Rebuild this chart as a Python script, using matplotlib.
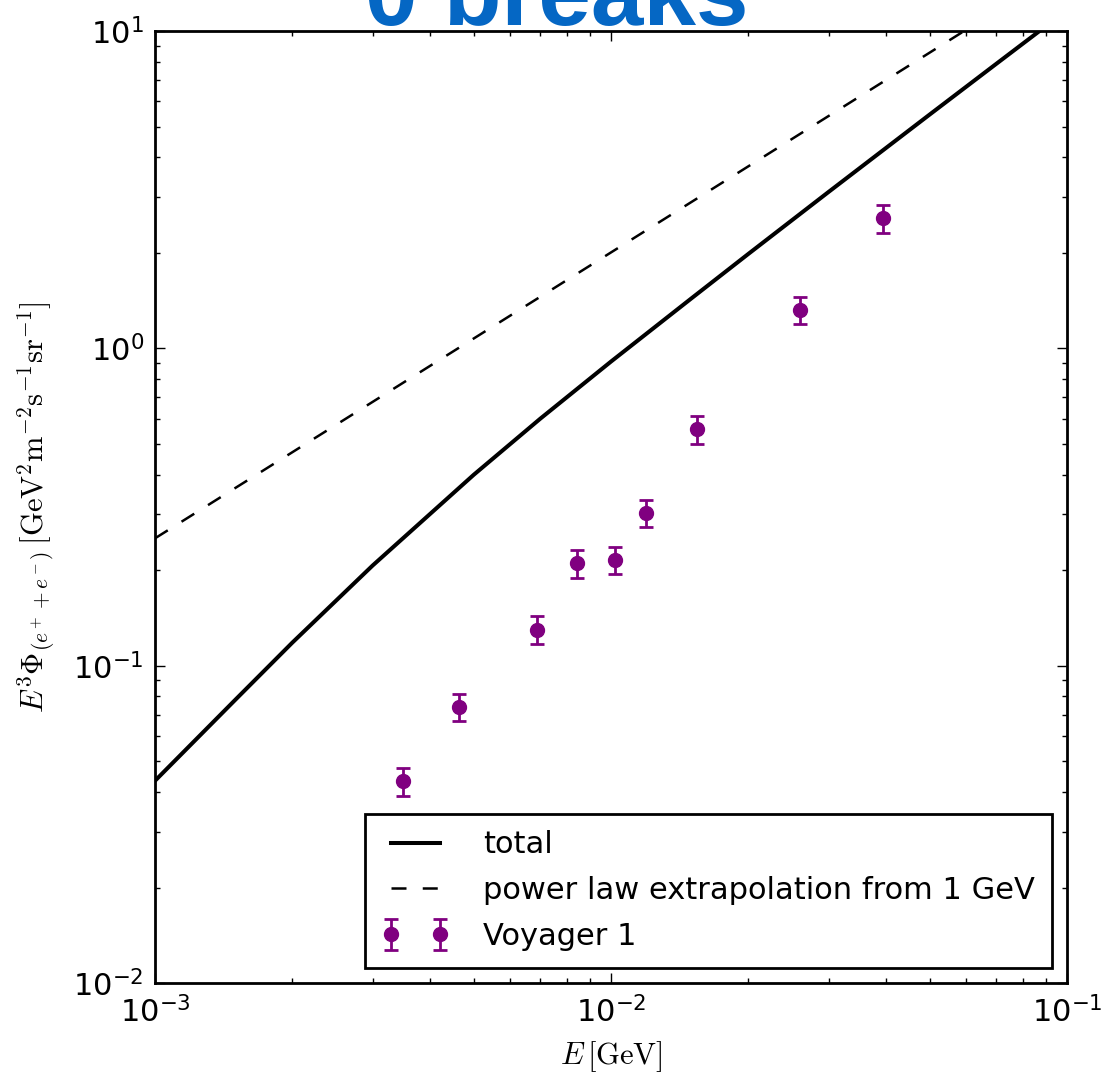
import matplotlib
matplotlib.use("Agg")
import matplotlib.pyplot as plt

# Voyager 1 points (E in GeV, E^3 * flux)
voyager_E = [3.50e-3, 4.64e-3, 6.88e-3, 8.42e-3, 1.02e-2, 1.194e-2, 1.544e-2, 2.597e-2, 3.95e-2]
voyager_flux = [0.0433, 0.0741, 0.130, 0.2105, 0.2152, 0.303, 0.557, 1.32, 2.575]
voyager_err = [0.0044, 0.0074, 0.013, 0.021, 0.021, 0.030, 0.056, 0.13, 0.26]

# total model curve
total_E = [1e-3, 1.5e-3, 2e-3, 3e-3, 5e-3, 7e-3, 1e-2, 1.5e-2, 2e-2, 3e-2, 5e-2, 7e-2, 1e-1]
total_flux = [0.0434, 0.0781, 0.1182, 0.2068, 0.3996, 0.6006, 0.9085, 1.436, 1.983, 3.110, 5.455, 7.882, 11.63]

# power law extrapolation from 1 GeV (straight in log-log)
pl_E = [1e-3, 1e-1]
pl_flux = [0.252, 15.96]

plt.rcParams['mathtext.fontset'] = 'cm'
plt.rcParams['axes.unicode_minus'] = False
plt.rcParams['font.family'] = 'DejaVu Sans'
plt.rcParams['font.size'] = 22

fig = plt.figure(figsize=(11.02, 10.76), dpi=100)
ax = fig.add_axes([0.1407, 0.0864, 0.8275, 0.8848])

ax.plot(total_E, total_flux, color='black', lw=2.9, label='total')
ax.plot(pl_E, pl_flux, color='black', lw=1.8, ls=(0, (6, 6.5)),
        label='power law extrapolation from 1 GeV')
ax.errorbar(voyager_E, voyager_flux, yerr=voyager_err, fmt='o', color='purple',
            mec='purple', ms=10, elinewidth=2, capsize=5, capthick=2,
            label='Voyager 1')

ax.set_xscale('log')
ax.set_yscale('log')
ax.set_xlim(1e-3, 1e-1)
ax.set_ylim(1e-2, 1e1)

for s in ax.spines.values():
    s.set_linewidth(2)
ax.tick_params(which='both', direction='in', top=True, right=True, width=1)
ax.tick_params(which='major', length=7.5, labelsize=22)
ax.tick_params(which='minor', length=3.8)
ax.tick_params(axis='x', which='major', pad=9)
ax.tick_params(axis='y', which='major', pad=8)

ax.set_xlabel(r'$E\,[\mathrm{GeV}]$', fontsize=22, labelpad=8)
ax.set_ylabel(r'$E^3\Phi_{(e^++e^-)}\,[\mathrm{GeV}^2\mathrm{m}^{-2}\mathrm{s}^{-1}\mathrm{sr}^{-1}]$',
              fontsize=22, labelpad=12)

leg = ax.legend(loc='lower right', numpoints=2, fontsize=22, fancybox=False,
                framealpha=1, edgecolor='black', borderaxespad=0.5,
                borderpad=0.55, handlelength=2.2, handletextpad=1.1,
                labelspacing=0.55)
leg.get_frame().set_linewidth(2)

fig.text(0.505, 1 - 25 / 1076, '0 breaks', ha='center', va='baseline',
         fontsize=68, fontweight='bold', color='#0567c4', family='Liberation Sans')

fig.savefig('out.png', dpi=100, facecolor='white')
